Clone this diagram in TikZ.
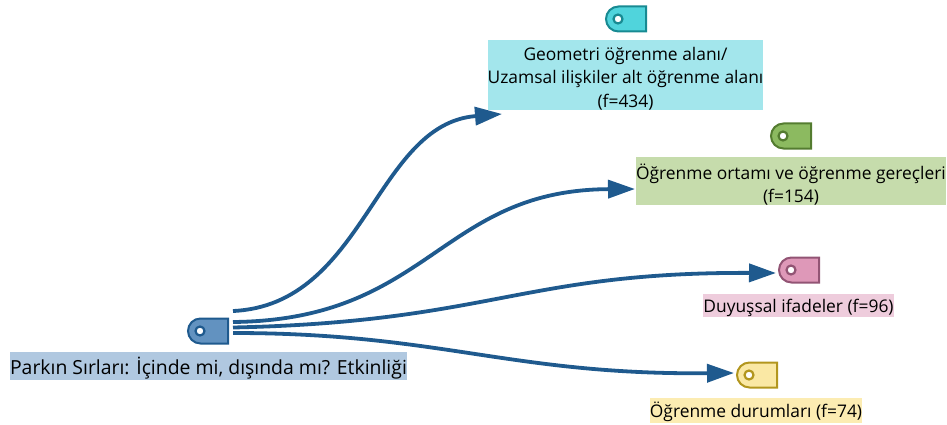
\documentclass[tikz,border=0pt]{standalone}
\usepackage{fontspec}
\setmainfont{Open Sans}
\usetikzlibrary{arrows.meta,shapes.misc}
\definecolor{linkblue}{HTML}{1F5A8E}
\definecolor{parkFill}{RGB}{98,146,192}
\definecolor{parkBack}{RGB}{176,200,224}
\definecolor{geoFill}{RGB}{80,212,220}
\definecolor{geoEdge}{RGB}{24,138,146}
\definecolor{geoBack}{RGB}{163,230,236}
\definecolor{ortamFill}{RGB}{140,186,96}
\definecolor{ortamEdge}{RGB}{84,124,48}
\definecolor{ortamBack}{RGB}{198,220,172}
\definecolor{duyuFill}{RGB}{222,152,184}
\definecolor{duyuEdge}{RGB}{146,84,116}
\definecolor{duyuBack}{RGB}{238,204,220}
\definecolor{durumFill}{RGB}{250,232,164}
\definecolor{durumEdge}{RGB}{178,150,30}
\definecolor{durumBack}{RGB}{252,236,178}
\newcommand{\labelline}[2][8.5pt]{\raisebox{-#1}[0pt][0pt]{#2}}
\tikzset{
  tagnode/.style={rounded rectangle, rounded rectangle east arc=none, minimum width=40pt, minimum height=25pt, inner sep=0pt, line width=2pt},
  holenode/.style={circle, fill=white, minimum size=9pt, inner sep=0pt, line width=2.2pt},
  labelnode/.style={inner sep=0pt, align=center, font=\fontsize{17.4}{23.5}\selectfont, text=black},
  linkline/.style={line width=3.8pt, draw=linkblue, -{Triangle[length=27pt,width=18pt]}}
}
\begin{document}
\begin{tikzpicture}[x=1pt,y=-1pt]
  \useasboundingbox (0,0) rectangle (947,425);

  % Source tag and its label
  \node[tagnode, fill=parkFill, draw=linkblue] (parkTag) at (208,331) {};
  \node[holenode, draw=linkblue] (parkHole) at (200,331) {};
  \node[labelnode, fill=parkBack, minimum width=397pt, minimum height=28pt, font=\fontsize{19.4}{23.5}\selectfont] (parkLabel) at (208.5,366) {\labelline{Parkın Sırları: İçinde mi, dışında mı? Etkinliği}};

  % Target tags with their labels
  \node[tagnode, fill=geoFill, draw=geoEdge] (geoTag) at (626,19) {};
  \node[holenode, draw=geoEdge] (geoHole) at (618,19) {};
  \node[labelnode, fill=geoBack, minimum width=272pt, minimum height=70pt] (geoLabel) at (625.5,75.5) {\labelline{Geometri öğrenme alanı/}\\\labelline{Uzamsal ilişkiler alt öğrenme alanı}\\\labelline{(f=434)}};

  \node[tagnode, fill=ortamFill, draw=ortamEdge] (ortamTag) at (791,136) {};
  \node[holenode, draw=ortamEdge] (ortamHole) at (783,136) {};
  \node[labelnode, fill=ortamBack, minimum width=310pt, minimum height=48pt] (ortamLabel) at (791,181) {\labelline[10pt]{Öğrenme ortamı ve öğrenme gereçleri}\\\labelline[10pt]{(f=154)}};

  \node[tagnode, fill=duyuFill, draw=duyuEdge] (duyuTag) at (799,270) {};
  \node[holenode, draw=duyuEdge] (duyuHole) at (791,270) {};
  \node[labelnode, fill=duyuBack, minimum width=189pt, minimum height=23pt] (duyuLabel) at (798.5,305.5) {\labelline[6.5pt]{Duyuşsal ifadeler (f=96)}};

  \node[tagnode, fill=durumFill, draw=durumEdge] (durumTag) at (757,375) {};
  \node[holenode, draw=durumEdge] (durumHole) at (749,375) {};
  \node[labelnode, fill=durumBack, minimum width=212pt, minimum height=25pt] (durumLabel) at (756,410) {\labelline[7pt]{Öğrenme durumları (f=74)}};

  % Free ends of the links next to the source tag
  \coordinate (startGeo) at (233,311);
  \coordinate (startOrtam) at (233,322);
  \coordinate (startDuyu) at (233,327.5);
  \coordinate (startDurum) at (233,333);
  \coordinate (endGeo) at (502,114);
  \coordinate (endOrtam) at (635,189);

  % Links
  \draw[linkline] (startGeo) .. controls (365,305) and (375,124) .. (endGeo);
  \draw[linkline] (startOrtam) .. controls (430,320) and (440,190) .. (endOrtam);
  \draw[linkline] (startDuyu) .. controls (490,322) and (522,272) .. ([shift={(-2,3)}]duyuTag.west);
  \draw[linkline] (startDurum) .. controls (440,333) and (510,375) .. ([shift={(-2,-2)}]durumTag.west);
\end{tikzpicture}
\end{document}
